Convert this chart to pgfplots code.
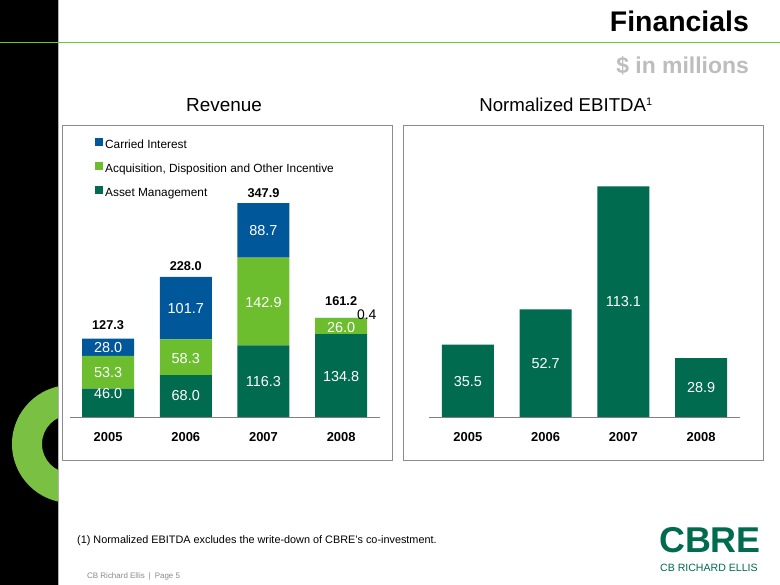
\documentclass[border=0pt]{standalone}
\usepackage{pgfplots}
\pgfplotsset{compat=1.18}
\usepackage{pgfplotstable}
\usepackage{fontspec}
\setmainfont{Liberation Sans}
\definecolor{cbdark}{HTML}{006B4F}
\definecolor{cblight}{HTML}{6CBE2E}
\definecolor{cbblue}{HTML}{00589B}
\definecolor{ringgreen}{HTML}{7AC143}
\definecolor{linegreen}{HTML}{66CC33}
\definecolor{boxgray}{HTML}{8C8C8C}
\definecolor{axisgray}{HTML}{808080}
\definecolor{titlegray}{HTML}{BDBDBD}
\definecolor{footgray}{HTML}{8A8A8A}
\newcommand{\fs}[1]{\fontsize{#1}{#1}\selectfont}
\pgfplotstableread{
x am adoi ci
0 46.0 53.3 28.0
1 68.0 58.3 101.7
2 116.3 142.9 88.7
3 134.8 26.0 0.4
}\revenue
\pgfplotstableread{
x y lab
0 37.4 46.0
0 72.7 53.3
0 112.7 28.0
1 34.1 68.0
1 95.4 58.3
1 176.7 101.7
2 57.4 116.3
2 185.9 142.9
2 302.4 88.7
3 65.5 134.8
3 145.8 26.0
}\revlabels
\pgfplotstableread{
x y lab
0 149.6 127.3
1 246.0 228.0
2 363.7 347.9
3 188.6 161.2
}\revtotals
\pgfplotstableread{
x y lab
0 17.6 35.5
1 26.4 52.7
2 56.4 113.1
3 14.2 28.9
}\ebitdalabels
\begin{document}
\begin{tikzpicture}[x=1bp,y=1bp]
\path[use as bounding box] (0,0) rectangle (780,585);
\fill[white] (0,0) rectangle (780,585);
\fill[black] (0,0) rectangle (58,585);
\begin{scope}
\clip (0,0) rectangle (58,585);
\fill[ringgreen,even odd rule] (71,141) circle[radius=59bp] (71,141) circle[radius=29bp];
\end{scope}
\draw[gray!60, line width=0.6bp] (58.3,0) -- (58.3,585);
\draw[linegreen, line width=1.6bp] (0,542.3) -- (780,542.3);
\node[anchor=base east, inner sep=0pt, font=\bfseries\fs{28.5}] at (749,553.3) {Financials};
\node[anchor=base east, inner sep=0pt, text=titlegray, font=\bfseries\fs{23}] at (749,511) {\$ in millions};
\node[anchor=base, inner sep=0pt, font=\fs{19}] at (224,473.5) {Revenue};
\node[anchor=base, inner sep=0pt, font=\fs{18.7}] at (566,473.5) {Normalized EBITDA\textsuperscript{\fs{11}1}};
\draw[boxgray, line width=0.8bp] (62,125) rectangle (392,460);
\draw[boxgray, line width=0.8bp] (403,125) rectangle (763,460);
\node[anchor=base west, inner sep=0pt, font=\fs{10.9}] at (77,41.7) {(1) Normalized EBITDA excludes the write-down of CBRE's co-investment.};
\node[anchor=base west, inner sep=0pt, text=footgray, font=\fs{8}] at (87,6.7) {CB Richard Ellis\enspace|\enspace Page 5};
\node[anchor=base west, inner sep=0pt, text=cbdark, font=\bfseries\fs{36}] at (659,32) {CBRE};
\node[anchor=base west, inner sep=0pt, text=cbdark, font=\fs{10.6}] at (660,13.5) {CB RICHARD ELLIS};

% Revenue bars
\begin{axis}[at={(70bp,168bp)}, anchor=south west, scale only axis,
  width=310bp, height=246bp, xmin=-0.49, xmax=3.5, ymin=0, ymax=400,
  ybar stacked, bar width=52bp,
  axis x line*=bottom, axis y line=none,
  x axis line style={-, draw=axisgray, line width=0.9bp},
  xtick={0,1,2,3}, xticklabels={2005,2006,2007,2008}, major tick length=0pt,
  xticklabel style={anchor=base, yshift=-25bp, font=\bfseries\fs{13}},
  ytick=\empty, clip=false,
  reverse legend,
  legend cell align=left,
  legend style={at={(0.0806,1.136)}, anchor=north west, draw=none, fill=none,
    font=\fs{11.9}, row sep=10.5bp, inner sep=0pt,
    nodes={inner sep=0pt, inner xsep=2bp, text height=9bp, text depth=3bp}},
  legend image code/.code={\fill[#1,draw=none] (0bp,-0.5bp) rectangle (8bp,7.5bp);},
]
\addplot[fill=cbdark, draw=none] table[x=x, y=am] {\revenue};
\addlegendentry{Asset Management}
\addplot[fill=cblight, draw=none] table[x=x, y=adoi] {\revenue};
\addlegendentry{Acquisition, Disposition and Other Incentive}
\addplot[fill=cbblue, draw=none] table[x=x, y=ci] {\revenue};
\addlegendentry{Carried Interest}
\end{axis}

% Revenue labels
\begin{axis}[at={(70bp,168bp)}, anchor=south west, scale only axis,
  width=310bp, height=246bp, xmin=-0.49, xmax=3.5, ymin=0, ymax=400,
  hide axis, clip=false]
\addplot[only marks, mark=none, nodes near coords, point meta=explicit symbolic,
  nodes near coords align=center,
  every node near coord/.append style={anchor=center, text=white, font=\fs{14.5}}]
  table[x=x, y=y, meta=lab] {\revlabels};
\addplot[only marks, mark=none, nodes near coords, point meta=explicit symbolic,
  nodes near coords align=center,
  every node near coord/.append style={anchor=center, text=black, font=\bfseries\fs{12.8}}]
  table[x=x, y=y, meta=lab] {\revtotals};
\addplot[only marks, mark=none, nodes near coords, point meta=explicit symbolic,
  nodes near coords align=center,
  every node near coord/.append style={anchor=center, text=black, font=\fs{14}}]
  coordinates {(3.33,165.9) [0.4]};
\end{axis}

% EBITDA
\begin{axis}[at={(429bp,168bp)}, anchor=south west, scale only axis,
  width=311bp, height=244.8bp, xmin=-0.5, xmax=3.5, ymin=0, ymax=120,
  axis x line*=bottom, axis y line=none,
  x axis line style={-, draw=axisgray, line width=0.9bp},
  xtick={0,1,2,3}, xticklabels={2005,2006,2007,2008}, major tick length=0pt,
  xticklabel style={anchor=base, yshift=-25bp, font=\bfseries\fs{13}},
  ytick=\empty, clip=false]
\addplot[ybar, bar width=52bp, fill=cbdark, draw=none] coordinates {(0,35.5) (1,52.7) (2,113.1) (3,28.9)};
\addplot[only marks, mark=none, nodes near coords, point meta=explicit symbolic,
  nodes near coords align=center,
  every node near coord/.append style={anchor=center, text=white, font=\fs{14.5}}]
  table[x=x, y=y, meta=lab] {\ebitdalabels};
\end{axis}
\end{tikzpicture}
\end{document}
